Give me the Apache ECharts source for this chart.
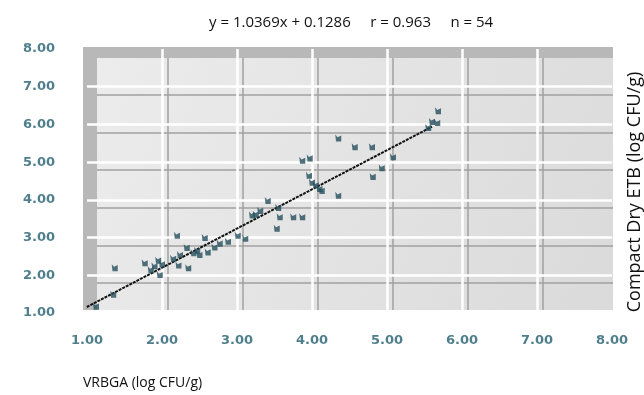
<!DOCTYPE html>
<html>
<head>
<meta charset="utf-8">
<script src="https://cdn.jsdelivr.net/npm/echarts@6/dist/echarts.min.js"></script>
<style>
html,body{margin:0;padding:0;background:#fff;}
#chart{width:644px;height:395px;}
</style>
</head>
<body>
<div id="chart"></div>
<script>
// ---- data ----
const xValues = [0.97,1.12,1.13,1.37,1.35,1.77,1.85,1.90,1.95,1.97,2.00,2.20,2.15,2.24,2.22,2.33,2.35,2.42,2.47,2.50,2.57,2.61,2.70,2.77,2.88,3.01,3.11,3.20,3.25,3.31,3.41,3.55,3.57,3.53,3.75,3.87,3.87,3.97,3.96,4.00,4.05,4.13,4.10,4.35,4.35,4.57,4.80,4.93,4.81,5.08,5.55,5.60,5.67,5.68];
const yValues = [1.38,1.18,0.98,2.20,1.50,2.33,2.15,2.25,2.40,2.02,2.30,3.06,2.45,2.55,2.27,2.74,2.20,2.60,2.66,2.55,3.00,2.62,2.75,2.85,2.90,3.06,2.98,3.60,3.62,3.72,3.98,3.80,3.55,3.25,3.55,3.55,5.05,5.11,4.65,4.47,4.40,4.25,4.30,4.12,5.64,5.41,5.41,4.85,4.62,5.14,5.92,6.08,6.05,6.36];
const fitX = [0.95, 5.60];
const fitY = [1.11, 5.94];
const tickLabels = ['1.00','2.00','3.00','4.00','5.00','6.00','7.00','8.00'];
const captionText = 'y = 1.0369x + 0.1286     r = 0.963     n = 54';
const xTitle = 'VRBGA (log CFU/g)';
const yTitle = 'Compact Dry ETB (log CFU/g)';

const points = xValues.map((x, i) => [x, yValues[i]]);
const fitLine = fitX.map((x, i) => [x, fitY[i]]);

const labelStyle = {
  color: '#4f7f8c',
  fontFamily: 'DejaVu Sans',
  fontWeight: 'bold',
  fontSize: 13
};

const hiddenAxis = (gi) => ({
  gridIndex: gi, type: 'value', min: 0, max: 1, show: false
});

const chart = echarts.init(document.getElementById('chart'), null, {renderer: 'canvas'});
chart.setOption({
  animation: false,
  backgroundColor: '#ffffff',
  title: {
    text: captionText,
    left: 204, top: 10,
    textStyle: {fontFamily: 'Open Sans', fontWeight: 'normal', fontSize: 15, color: '#111'}
  },
  grid: [
    {left: 83, right: 31, top: 47, bottom: 85, show: true, backgroundColor: '#b8b8b8', borderWidth: 0, z: 0},
    {left: 97, right: 31, top: 58, bottom: 85, show: true,
      backgroundColor: {type: 'linear', x: 0, y: 0, x2: 1, y2: 1,
        colorStops: [{offset: 0, color: '#ececec'}, {offset: 1, color: '#dadada'}]},
      borderWidth: 0, z: 1},
    {left: 87, right: 32, top: 49, bottom: 82, show: false, z: 2}
  ],
  xAxis: [
    hiddenAxis(0),
    {gridIndex: 1, type: 'value', min: 1.053, max: 7.933, z: 2,
      axisLine: {show: false}, axisTick: {show: false}, axisLabel: {show: false},
      splitLine: {show: true, showMinLine: false, showMaxLine: false, lineStyle: {color: '#a0a0a0', width: 1.5}}},
    {gridIndex: 2, type: 'value', min: 1, max: 8, interval: 1, z: 3,
      axisLine: {show: false}, axisTick: {show: false},
      axisLabel: Object.assign({margin: 21, formatter: (v) => tickLabels[Math.round(v) - 1] || ''}, labelStyle),
      splitLine: {show: true, showMinLine: false, showMaxLine: false, lineStyle: {color: '#ffffff', width: 2.5}}}
  ],
  yAxis: [
    hiddenAxis(0),
    {gridIndex: 1, type: 'value', min: 1.282, max: 7.984, z: 2,
      axisLine: {show: false}, axisTick: {show: false}, axisLabel: {show: false},
      splitLine: {show: true, showMinLine: false, showMaxLine: false, lineStyle: {color: '#a0a0a0', width: 1.5}}},
    {gridIndex: 2, type: 'value', min: 1, max: 8, interval: 1, z: 3,
      axisLine: {show: false}, axisTick: {show: false},
      axisLabel: Object.assign({margin: 32, padding: [0, 0, 13, 0], formatter: (v) => tickLabels[Math.round(v) - 1] || ''}, labelStyle),
      splitLine: {show: true, showMinLine: false, showMaxLine: false, lineStyle: {color: '#ffffff', width: 2.5}}}
  ],
  series: [
    {type: 'line', xAxisIndex: 2, yAxisIndex: 2, data: fitLine, symbol: 'none', z: 4,
      lineStyle: {color: '#111', width: 2, type: [3, 1]}},
    {type: 'scatter', xAxisIndex: 2, yAxisIndex: 2, data: points, z: 5,
      symbol: 'path://M0,0 L3,3 L8,1 L8,8 L1,8 Z', symbolSize: [6, 7],
      itemStyle: {color: '#264f5d'}}
  ],
  graphic: [
    {type: 'text', left: 83, top: 376,
      style: {text: xTitle, fontFamily: 'Open Sans', fontSize: 14, fill: '#111'}},
    {type: 'text', x: 635, y: 192, rotation: Math.PI / 2,
      style: {text: yTitle, fontFamily: 'Open Sans', fontSize: 18, fill: '#111', align: 'center', verticalAlign: 'middle'}}
  ]
});
</script>
</body>
</html>
